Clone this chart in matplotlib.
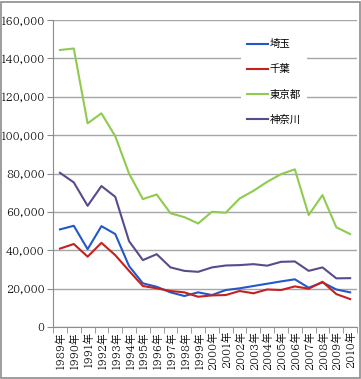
import matplotlib.pyplot as plt
from matplotlib.ticker import FuncFormatter, FixedLocator
from matplotlib.patches import Rectangle

plt.rcParams['font.family'] = ['BIZ UDPMincho', 'Noto Serif CJK JP', 'Liberation Serif']

# データ
years = [f'{y}年' for y in range(1989, 2011)]
saitama = [50900, 52800, 40600, 52600, 48500, 31800, 22800, 21000, 18100, 16200, 18100,
           16700, 19300, 20200, 21400, 22600, 23800, 24900, 20500, 23300, 19600, 18100]
chiba = [40900, 43300, 36700, 43900, 37500, 29300, 21400, 20200, 18800, 18100, 15800,
         16500, 16700, 18800, 17600, 19600, 19300, 21200, 20000, 23600, 17200, 14600]
tokyo = [144400, 145200, 106200, 111400, 99500, 80000, 66700, 69100, 59300, 57300, 54000,
         60100, 59600, 67000, 71000, 75700, 79700, 82200, 58400, 68800, 52000, 48500]
kanagawa = [80400, 75400, 63200, 73500, 67900, 44800, 34900, 38000, 31100, 29300, 28800,
            31100, 32100, 32300, 32800, 32000, 34000, 34200, 29300, 31100, 25400, 25500]

series = [('埼玉', saitama, '#2457c8'),
          ('千葉', chiba, '#c4211f'),
          ('東京都', tokyo, '#8ecb4f'),
          ('神奈川', kanagawa, '#5a4a8c')]

fig = plt.figure(figsize=(3.61, 3.79), dpi=100)
fig.patches.append(Rectangle((0.002, 0.002), 0.994, 0.994, transform=fig.transFigure,
                             fill=False, edgecolor='#8c8c8c', lw=1.2))
ax = fig.add_axes([0.147, 0.137, 0.842, 0.81])

x = list(range(len(years)))
for name, vals, col in series:
    ax.plot(x, vals, color=col, lw=1.5, label=name)

ax.set_xlim(-0.5, len(years) - 0.5)
ax.set_ylim(0, 160000)
ax.set_yticks(range(0, 160001, 20000))
ax.yaxis.set_major_formatter(FuncFormatter(lambda v, p: f'{int(v):,}'))
ax.grid(axis='y', color='#a6a6a6', lw=1)
ax.set_axisbelow(True)

ax.set_xticks(x)
ax.set_xticklabels(years, rotation=90, fontsize=7.6)
ax.xaxis.set_minor_locator(FixedLocator([i - 0.5 for i in range(len(years) + 1)]))
ax.tick_params(axis='x', which='major', length=0, pad=3)
ax.tick_params(axis='x', which='minor', length=4, color='#8c8c8c')
ax.tick_params(axis='y', length=4, color='#8c8c8c', labelsize=7.6, pad=2)

for s in ['top', 'right']:
    ax.spines[s].set_visible(False)
for s in ['left', 'bottom']:
    ax.spines[s].set_color('#8c8c8c')

leg = ax.legend(loc='upper left', bbox_to_anchor=(0.6, 0.975), frameon=True,
                prop={'family': ['Noto Sans CJK JP'], 'size': 7.5},
                handlelength=2.0, handletextpad=0.2, labelspacing=1.45,
                borderpad=0.6, fancybox=False)
leg.get_frame().set_edgecolor('none')
leg.get_frame().set_facecolor('white')
leg.get_frame().set_alpha(1)

plt.savefig('out.png', dpi=100)
plt.close()
